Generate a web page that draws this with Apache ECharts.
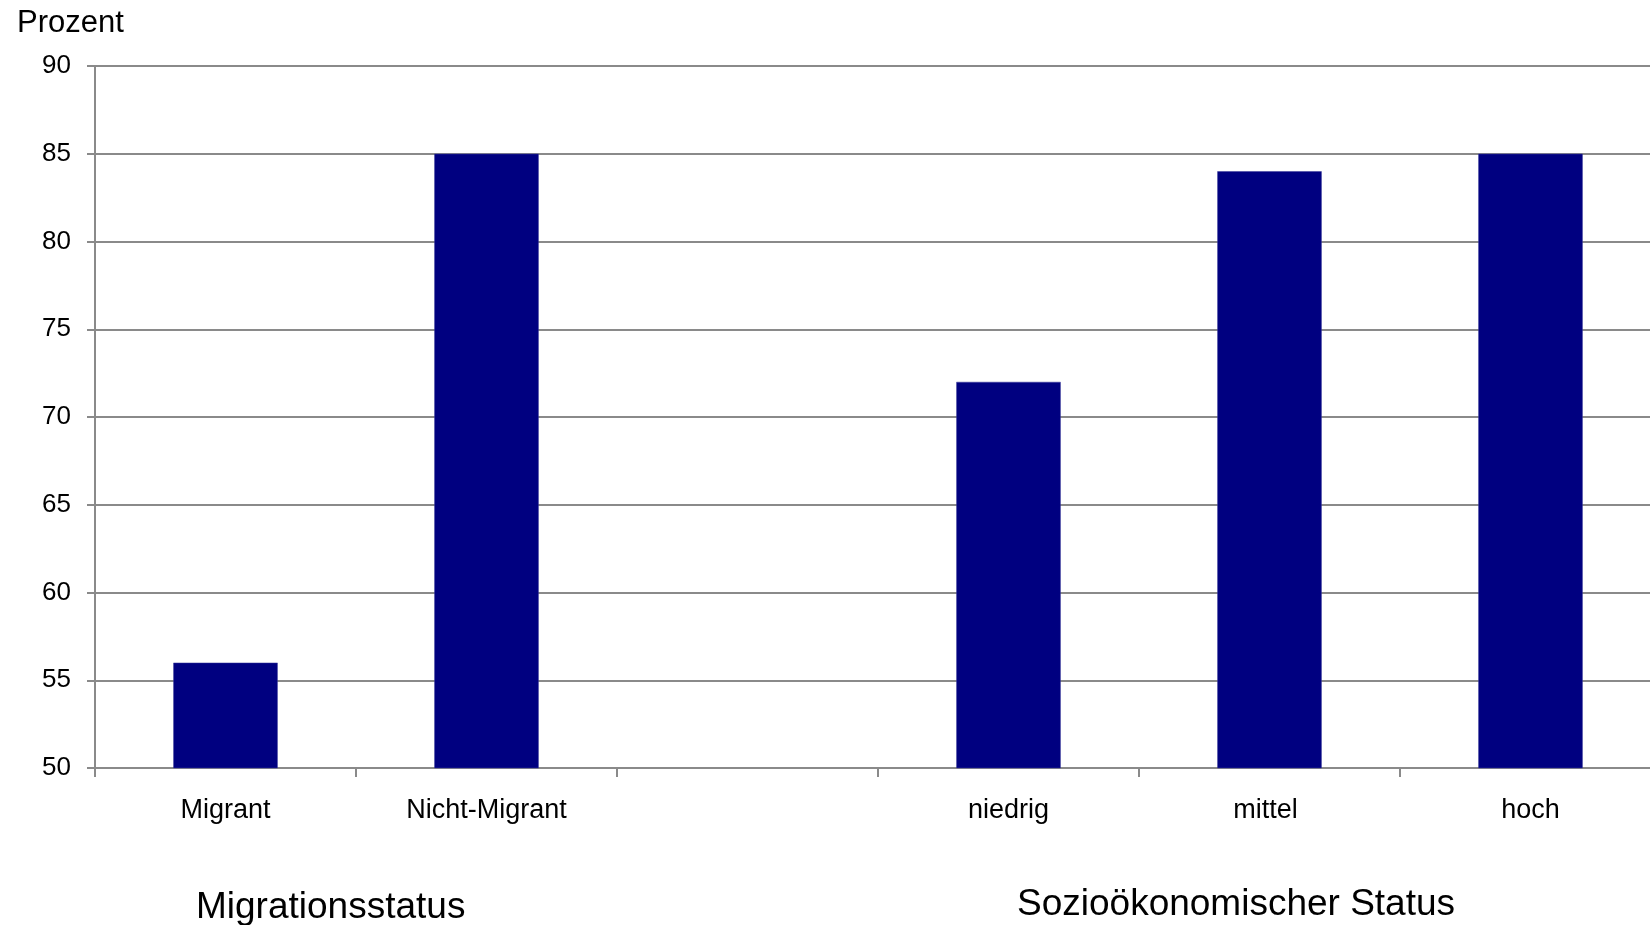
<!DOCTYPE html>
<html>
<head>
<meta charset="utf-8">
<script src="https://cdn.jsdelivr.net/npm/echarts@6/dist/echarts.min.js"></script>
<style>
  html, body { margin: 0; padding: 0; background: #fff; overflow: hidden; }
  /* the plot area runs slightly past the right edge of the page */
  #chart { width: 1672px; height: 925px; }
</style>
</head>
<body>
<div id="chart"></div>
<script>
// Categories (an empty slot separates the two groups)
const categories = ['Migrant', 'Nicht-Migrant', '', 'niedrig', 'mittel', 'hoch'];
// Share in percent per category
const values = [56, 85, null, 72, 84, 85];
// Y axis range and step
const yTicks = { min: 50, max: 90, step: 5 };
// Group captions under the category labels
const groupLabels = ['Migrationsstatus', 'Sozioökonomischer Status'];
const axisTitle = 'Prozent';

const FONT = '"Liberation Sans", Arial, sans-serif';
const GRID_COLOR = '#8a8a8a';

// "mittel" sits a touch left of its slot centre
const categoryData = categories.map(c =>
  c === 'mittel' ? { value: c, textStyle: { padding: [0, 8, 0, 0] } } : c);

const chart = echarts.init(document.getElementById('chart'), null, { renderer: 'canvas' });

chart.setOption({
  backgroundColor: '#ffffff',
  animation: false,
  grid: { left: 95, right: 11, top: 66, bottom: 157, containLabel: false },
  xAxis: {
    type: 'category',
    data: categoryData,
    boundaryGap: true,
    axisLine: { lineStyle: { color: GRID_COLOR, width: 2 } },
    axisTick: { show: true, length: 9, lineStyle: { color: GRID_COLOR, width: 2 } },
    axisLabel: { color: '#000', fontFamily: FONT, fontSize: 27, margin: 29 }
  },
  yAxis: {
    type: 'value',
    min: yTicks.min,
    max: yTicks.max,
    interval: yTicks.step,
    axisLine: { show: true, lineStyle: { color: GRID_COLOR, width: 2 } },
    axisTick: { show: true, length: 8, lineStyle: { color: GRID_COLOR, width: 2 } },
    axisLabel: { color: '#000', fontFamily: FONT, fontSize: 26, margin: 24 },
    splitLine: { show: true, lineStyle: { color: GRID_COLOR, width: 2 } }
  },
  series: [{
    type: 'bar',
    data: values,
    barWidth: '40%',
    itemStyle: { color: '#000080', borderColor: '#3a3a9a', borderWidth: 0.5 }
  }],
  graphic: [
    { type: 'text', x: 17, y: 23, style: { text: axisTitle, font: '31px ' + FONT, fill: '#000', textVerticalAlign: 'middle' } },
    { type: 'text', x: 196, y: 908, style: { text: groupLabels[0], font: '37px ' + FONT, fill: '#000', textVerticalAlign: 'middle' } },
    { type: 'text', x: 1017, y: 905, style: { text: groupLabels[1], font: '37px ' + FONT, fill: '#000', textVerticalAlign: 'middle' } }
  ]
});
</script>
</body>
</html>
